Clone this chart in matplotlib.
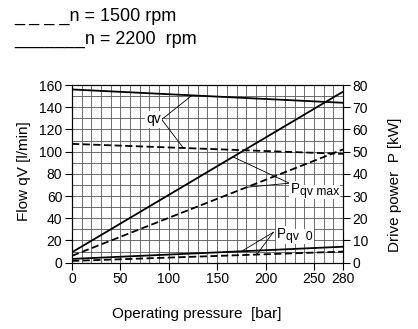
import numpy as np
import matplotlib as mpl
import matplotlib.pyplot as plt

mpl.rcParams.update({
    "font.family": "Liberation Sans",
})

# ----------------------------
# data (endpoints of straight lines)
# ----------------------------
pressure = [0, 280]                    # bar
qv_2200 = [156, 144]                   # l/min
qv_1500 = [107, 98]                    # l/min
p_max_2200 = [4.7, 77]                 # kW
p_max_1500 = [3.1, 51]                 # kW
p_zero_2200 = [1.7, 7.2]               # kW
p_zero_1500 = [0.8, 5.0]               # kW

x_ticks = [0, 50, 100, 150, 200, 250, 280]
y_ticks_flow = np.arange(0, 161, 20)
y_ticks_power = np.arange(0, 81, 10)

dashed = (0, (4, 1.9))

# ----------------------------
# figure
# ----------------------------
fig = plt.figure(figsize=(4.18, 3.29), dpi=100)
ax = fig.add_axes([0.1722, 0.2015, 0.6484, 0.5401])
ax2 = ax.twinx()

ax.set_xlim(0, 280)
ax.set_ylim(0, 160)
ax2.set_ylim(0, 80)

ax.set_xticks(x_ticks)
ax.set_yticks(y_ticks_flow)
ax2.set_yticks(y_ticks_power)
ax.set_xticks(np.arange(0, 281, 10), minor=True)
ax.set_yticks(np.arange(0, 161, 10), minor=True)
ax.grid(which="both", color="#555555", lw=0.6)
ax.tick_params(which="minor", length=0)
ax.tick_params(which="major", direction="out", length=5, width=0.8, labelsize=10, pad=2)
ax2.tick_params(direction="out", length=5, width=0.8, labelsize=10, pad=2)
for a in (ax, ax2):
    for s in a.spines.values():
        s.set_linewidth(0.8)

# flow lines (left axis)
ax.plot(pressure, qv_2200, color="black", lw=1.3)
ax.plot(pressure, qv_1500, color="black", lw=1.3, ls=dashed)

# power lines (right axis)
ax2.plot(pressure, p_max_2200, color="black", lw=1.3)
ax2.plot(pressure, p_max_1500, color="black", lw=1.3, ls=dashed)
ax2.plot(pressure, p_zero_2200, color="black", lw=1.3)
ax2.plot(pressure, p_zero_1500, color="black", lw=1.3, ls=dashed)

# ----------------------------
# leader lines + labels
# ----------------------------
box = dict(facecolor="white", edgecolor="none", pad=1)


def label_p(axis, x, y, sub):
    # "P" with a smaller, slightly lowered index after it
    axis.annotate("P", (x, y), ha="left", va="baseline", fontsize=10, bbox=box)
    axis.annotate(sub, (x, y), xytext=(6.6, -1.2), textcoords="offset points",
                  ha="left", va="baseline", fontsize=8.7, bbox=box)


apex = (92.7, 129)
for px, xs, ys in [(124, pressure, qv_2200), (115, pressure, qv_1500)]:
    ax.plot([apex[0], px], [apex[1], np.interp(px, xs, ys)], color="black", lw=0.6)
ax.text(apex[0] - 1, apex[1], "qv", ha="right", va="center", fontsize=10, bbox=box)

apex = (224.5, 35.8)
for px, ys in [(166.3, p_max_2200), (180.5, p_max_1500)]:
    ax2.plot([apex[0], px], [apex[1], np.interp(px, pressure, ys)], color="black", lw=0.6)
label_p(ax2, apex[0] + 1.5, apex[1] - 4.5, "qv max")

apex = (208, 13.7)
for px, ys in [(175.3, p_zero_2200), (190.8, p_zero_1500)]:
    ax2.plot([apex[0], px], [apex[1], np.interp(px, pressure, ys)], color="black", lw=0.6)
label_p(ax2, apex[0] + 4, apex[1] - 2.6, "qv  0")

# ----------------------------
# axis labels + header
# ----------------------------
ax.set_xlabel("Operating pressure  [bar]", fontsize=11)
ax.xaxis.set_label_coords(0.461, -0.25)
ax.set_ylabel("Flow qV [l/min]", fontsize=11)
ax.yaxis.set_label_coords(-0.15, 0.516)
ax2.set_ylabel("Drive power  P [kW]", fontsize=11)
ax2.yaxis.set_label_coords(1.166, 0.437)

fig.text(14 / 418, 1 - 21 / 329, "_ _ _ _n = 1500 rpm", fontsize=13, va="baseline")
fig.text(14 / 418, 1 - 44 / 329, "_______n = 2200  rpm", fontsize=13, va="baseline")

fig.savefig("out.png", dpi=100)
